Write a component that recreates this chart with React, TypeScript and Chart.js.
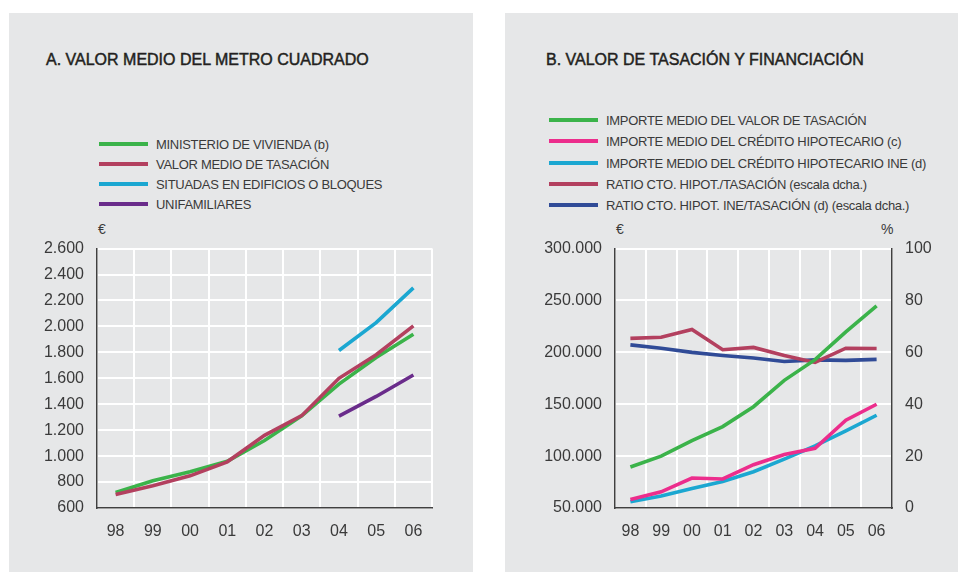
import React, { useEffect, useRef } from "react";
import { Chart, registerables } from "chart.js";

Chart.register(...registerables);

// ---- Data ----
const years = ["98", "99", "00", "01", "02", "03", "04", "05", "06"];

// Panel A (€/m²)
const ministerioVivienda = [720, 810, 880, 960, 1120, 1310, 1555, 1760, 1940];
const valorMedioTasacion = [705, 772, 848, 956, 1160, 1312, 1600, 1782, 2004];
const edificiosBloques = [null, null, null, null, null, null, 1814, 2029, 2297];
const unifamiliares = [null, null, null, null, null, null, 1308, 1460, 1625];

// Panel B (€ and %)
const importeTasacion = [89500, 100000, 115000, 128500, 147600, 173000, 193000, 219800, 244700];
const creditoHipotecario = [58300, 65600, 78900, 78000, 91700, 101500, 107600, 134700, 150000];
const creditoHipotecarioINE = [56000, 61500, 68800, 75500, 85000, 97100, 109800, 124400, 139400];
const ratioTasacion = [65.4, 65.8, 68.8, 61.0, 61.9, 58.8, 56.1, 61.6, 61.5];
const ratioINE = [62.9, 61.6, 60.0, 58.8, 57.8, 56.5, 57.1, 56.9, 57.3];

const legendA = [
  "MINISTERIO DE VIVIENDA (b)",
  "VALOR MEDIO DE TASACIÓN",
  "SITUADAS EN EDIFICIOS O BLOQUES",
  "UNIFAMILIARES",
];
const legendB = [
  "IMPORTE MEDIO DEL VALOR DE TASACIÓN",
  "IMPORTE MEDIO DEL CRÉDITO HIPOTECARIO (c)",
  "IMPORTE MEDIO DEL CRÉDITO HIPOTECARIO INE (d)",
  "RATIO CTO. HIPOT./TASACIÓN (escala dcha.)",
  "RATIO CTO. HIPOT. INE/TASACIÓN (d) (escala dcha.)",
];

const GREEN = "#3bb34a";
const CRIMSON = "#b3405f";
const CYAN = "#1ba7d1";
const PURPLE = "#6a2c8b";
const PINK = "#ec2d8c";
const NAVY = "#304b97";

const colorsA = [GREEN, CRIMSON, CYAN, PURPLE];
const colorsB = [GREEN, PINK, CYAN, CRIMSON, NAVY];

const PANEL_BG = "#e6e7e8";
const TEXT = "#3a3a3a";
const AXIS = "#404040";
const FONT = "'Liberation Sans', Arial, Helvetica, sans-serif";

function fmt(v: number): string {
  return String(Math.round(v)).replace(/\B(?=(\d{3})+(?!\d))/g, ".");
}

function fixWidth(w: number) {
  return (scale: any) => {
    scale.width = w;
  };
}
function fixHeight(h: number) {
  return (scale: any) => {
    scale.height = h;
  };
}

const tickFont = { family: FONT, size: 16 };

function lineDs(label: string, data: any[], color: string, extra: any = {}) {
  return {
    label,
    data,
    borderColor: color,
    backgroundColor: color,
    borderWidth: 3.6,
    pointRadius: 0,
    pointHoverRadius: 0,
    tension: 0,
    fill: false,
    spanGaps: false,
    borderCapStyle: "butt",
    ...extra,
  };
}

function Legend({
  items,
  colors,
  left,
  top,
  step,
}: {
  items: string[];
  colors: string[];
  left: number;
  top: number;
  step: number;
}) {
  return (
    <>
      {items.map((t, i) => (
        <div key={t} style={{ position: "absolute", left, top: top + i * step - 9, height: 18 }}>
          <div
            style={{
              position: "absolute",
              left: 0,
              top: 6,
              width: 49,
              height: 4,
              background: colors[i],
            }}
          />
          <div
            style={{
              position: "absolute",
              left: 57,
              top: 0,
              whiteSpace: "nowrap",
              fontFamily: FONT,
              fontSize: 13,
              letterSpacing: -0.3,
              lineHeight: "18px",
              color: TEXT,
            }}
          >
            {t}
          </div>
        </div>
      ))}
    </>
  );
}

export default function App() {
  const refA = useRef<HTMLCanvasElement>(null);
  const refB = useRef<HTMLCanvasElement>(null);

  useEffect(() => {
    const xScale = {
      type: "category",
      offset: true,
      afterFit: fixHeight(64),
      grid: { display: true, color: "#ffffff", lineWidth: 2, offset: true, drawTicks: false },
      border: { display: true, color: AXIS, width: 1.5 },
      ticks: { color: TEXT, font: tickFont, padding: 14, maxRotation: 0, autoSkip: false },
    };

    const chartA = new Chart(refA.current as HTMLCanvasElement, {
      type: "line",
      data: {
        labels: years,
        datasets: [
          lineDs(legendA[0], ministerioVivienda, GREEN, { order: 2 }),
          lineDs(legendA[1], valorMedioTasacion, CRIMSON, { order: 1 }),
          lineDs(legendA[2], edificiosBloques, CYAN, { order: 3 }),
          lineDs(legendA[3], unifamiliares, PURPLE, { order: 4 }),
        ],
      },
      options: {
        animation: false,
        responsive: false,
        maintainAspectRatio: false,
        layout: { padding: { top: 18, right: 41, left: 0, bottom: 0 } },
        plugins: { legend: { display: false }, tooltip: { enabled: false }, title: { display: false } },
        scales: {
          x: xScale as any,
          y: {
            type: "linear",
            min: 600,
            max: 2600,
            afterFit: fixWidth(88),
            grid: { color: "#ffffff", lineWidth: 2, drawTicks: false },
            border: { display: true, color: AXIS, width: 1.5 },
            ticks: {
              stepSize: 200,
              color: TEXT,
              font: tickFont,
              padding: 13,
              callback: (v: any) => fmt(Number(v)),
            },
          },
        },
      } as any,
    });

    const chartB = new Chart(refB.current as HTMLCanvasElement, {
      type: "line",
      data: {
        labels: years,
        datasets: [
          lineDs(legendB[0], importeTasacion, GREEN, { yAxisID: "y" }),
          lineDs(legendB[1], creditoHipotecario, PINK, { yAxisID: "y" }),
          lineDs(legendB[2], creditoHipotecarioINE, CYAN, { yAxisID: "y" }),
          lineDs(legendB[3], ratioTasacion, CRIMSON, { yAxisID: "y1" }),
          lineDs(legendB[4], ratioINE, NAVY, { yAxisID: "y1" }),
        ],
      },
      options: {
        animation: false,
        responsive: false,
        maintainAspectRatio: false,
        layout: { padding: { top: 18, right: 0, left: 0, bottom: 0 } },
        plugins: { legend: { display: false }, tooltip: { enabled: false }, title: { display: false } },
        scales: {
          x: xScale as any,
          y: {
            type: "linear",
            position: "left",
            min: 50000,
            max: 300000,
            afterFit: fixWidth(110),
            grid: { color: "#ffffff", lineWidth: 2, drawTicks: false },
            border: { display: true, color: AXIS, width: 1.5 },
            ticks: {
              stepSize: 50000,
              color: TEXT,
              font: tickFont,
              padding: 13,
              callback: (v: any) => fmt(Number(v)),
            },
          },
          y1: {
            type: "linear",
            position: "right",
            min: 0,
            max: 100,
            afterFit: fixWidth(66),
            grid: { display: false, drawTicks: false },
            border: { display: true, color: AXIS, width: 1.5 },
            ticks: {
              stepSize: 20,
              color: TEXT,
              font: tickFont,
              padding: 13,
              callback: (v: any) => String(v),
            },
          },
        },
      } as any,
    });

    return () => {
      chartA.destroy();
      chartB.destroy();
    };
  }, []);

  const titleStyle: React.CSSProperties = {
    position: "absolute",
    top: 51,
    whiteSpace: "nowrap",
    fontFamily: FONT,
    fontWeight: 400,
    fontSize: 16,
    lineHeight: "18px",
    color: "#231f20",
    WebkitTextStroke: "0.45px #231f20",
  } as any;
  const unitStyle: React.CSSProperties = {
    position: "absolute",
    top: 221,
    fontFamily: FONT,
    fontSize: 14,
    lineHeight: "16px",
    color: TEXT,
  };

  return (
    <div
      style={{
        position: "fixed",
        left: 0,
        top: 0,
        width: 958,
        height: 572,
        background: "#ffffff",
        overflow: "hidden",
      }}
    >
      {/* Panel A */}
      <div style={{ position: "absolute", left: 9, top: 13, width: 464, height: 559, background: PANEL_BG }} />
      {/* Panel B */}
      <div style={{ position: "absolute", left: 505, top: 13, width: 453, height: 559, background: PANEL_BG }} />

      <div style={{ ...titleStyle, left: 46 }}>A. VALOR MEDIO DEL METRO CUADRADO</div>
      <div style={{ ...titleStyle, left: 546 }}>B. VALOR DE TASACIÓN Y FINANCIACIÓN</div>

      <Legend items={legendA} colors={colorsA} left={99} top={145} step={20} />
      <Legend items={legendB} colors={colorsB} left={549} top={121} step={21.3} />

      <div style={{ ...unitStyle, left: 98 }}>€</div>
      <div style={{ ...unitStyle, left: 616 }}>€</div>
      <div style={{ ...unitStyle, left: 881 }}>%</div>

      <canvas
        ref={refA}
        width={464}
        height={346}
        style={{ position: "absolute", left: 9, top: 226, width: 464, height: 346 }}
      />
      <canvas
        ref={refB}
        width={453}
        height={346}
        style={{ position: "absolute", left: 505, top: 226, width: 453, height: 346 }}
      />
    </div>
  );
}
